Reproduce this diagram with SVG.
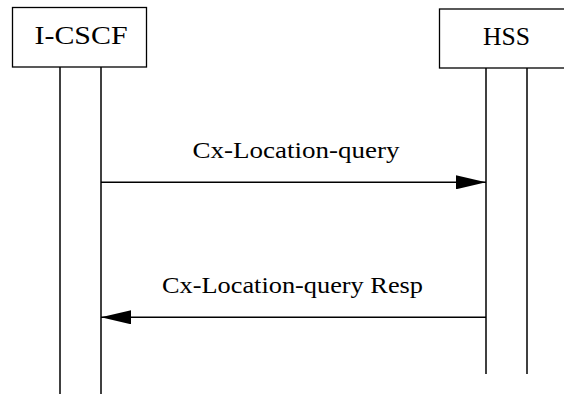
<svg xmlns="http://www.w3.org/2000/svg" width="564" height="394" viewBox="0 0 564 394">
<style>
.box{fill:#fff;stroke:#000;stroke-width:1.3}
.life{stroke:#000;stroke-width:1.5;fill:none}
.msg{stroke:#000;stroke-width:1.4;fill:none}
.lbl{font-family:"Liberation Serif","Times New Roman",serif;fill:#000;text-anchor:middle}
</style>
<defs>
<marker id="ah" markerUnits="userSpaceOnUse" markerWidth="30" markerHeight="14" refX="30" refY="7" orient="auto">
<path d="M0,0 L30,7 L0,14 Z" fill="#000"/>
</marker>
</defs>
<rect width="564" height="394" fill="#fff"/>
<g id="icscf">
<rect class="box" x="12.5" y="7.5" width="134" height="59.5"/>
<text class="lbl" x="81" y="43.5" font-size="26" textLength="93" lengthAdjust="spacingAndGlyphs">I-CSCF</text>
<line class="life" x1="60" y1="67" x2="60" y2="394"/>
<line class="life" x1="101" y1="67" x2="101" y2="394"/>
</g>
<g id="hss">
<rect class="box" x="439.5" y="9" width="135" height="59"/>
<text class="lbl" x="506.5" y="45" font-size="26" textLength="47" lengthAdjust="spacingAndGlyphs">HSS</text>
<line class="life" x1="486" y1="68" x2="486" y2="374"/>
<line class="life" x1="527" y1="68" x2="527" y2="374"/>
</g>
<g id="connectors">
<line class="msg" x1="101" y1="182.3" x2="486" y2="182.3" marker-end="url(#ah)"/>
<text class="lbl" x="296" y="158" font-size="24" textLength="207" lengthAdjust="spacingAndGlyphs">Cx-Location-query</text>
<line class="msg" x1="486" y1="317.3" x2="101" y2="317.3" marker-end="url(#ah)"/>
<text class="lbl" x="292.5" y="292.7" font-size="24" textLength="261" lengthAdjust="spacingAndGlyphs">Cx-Location-query Resp</text>
</g>
</svg>
